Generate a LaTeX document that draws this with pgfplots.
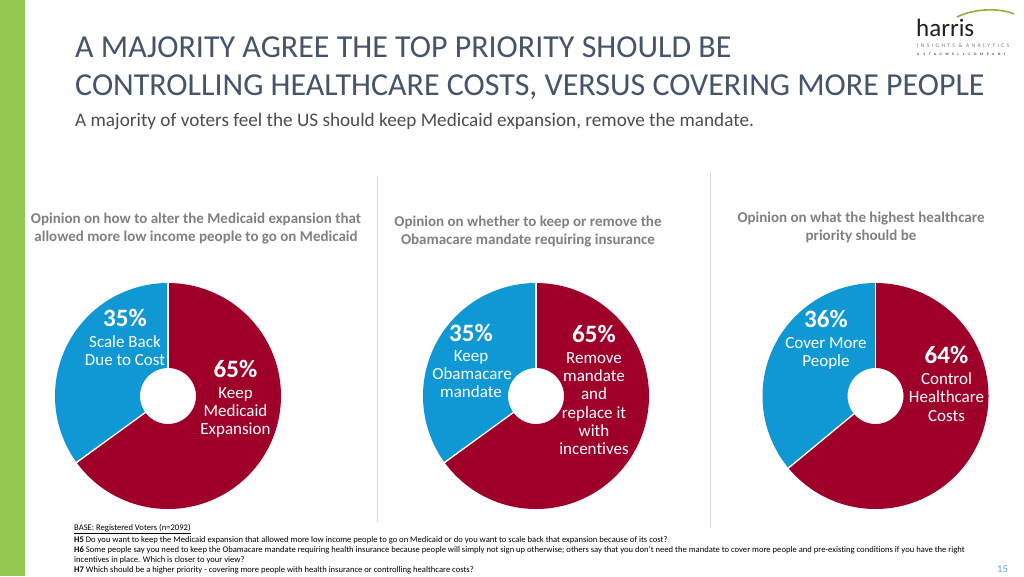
\documentclass[border=0pt]{standalone}
\usepackage{pgfplots}
\pgfplotsset{compat=1.18}
\usepgfplotslibrary{polar}
\usepackage{fontspec}
\setmainfont{Carlito}[Ligatures=NoCommon]
\newfontfamily\spaced[LetterSpace=42]{Carlito}
\newfontfamily\spacedB[LetterSpace=100]{Carlito}
\definecolor{pred}{RGB}{158,0,42}
\definecolor{pblue}{RGB}{16,152,212}
\definecolor{titlec}{RGB}{68,84,106}
\definecolor{subc}{RGB}{77,77,77}
\definecolor{headc}{RGB}{128,128,128}
\definecolor{barg}{RGB}{146,200,80}
\definecolor{divc}{RGB}{217,217,217}
\definecolor{pagec}{RGB}{90,167,219}
\definecolor{logog}{RGB}{141,179,58}

% data: percentages (blue slice, red slice)
\def\pieAblue{35}\def\pieAred{65}
\def\pieBblue{35}\def\pieBred{65}
\def\pieCblue{36}\def\pieCred{64}

\newcommand{\donut}[4]{%
\pgfmathsetmacro\bend{90+3.6*#3}%
\pgfmathsetmacro\rstart{90-3.6*#4}%
\begin{polaraxis}[at={(#1pt,-#2pt)}, anchor=center, hide axis, scale only axis,
  width=226pt, height=226pt, ymin=0, ymax=113, clip=false]
\addplot[pblue, line width=85pt, line join=round, domain=90:\bend, samples=90, no marks] {70.5};
\addplot[pred, line width=85pt, line join=round, domain=\rstart:90, samples=150, no marks] {70.5};
\addplot[white, line width=1.3pt, no marks] coordinates {(90,27.5) (90,114)};
\addplot[white, line width=1.3pt, no marks] coordinates {(\bend,27.5) (\bend,114)};
\end{polaraxis}}

\begin{document}
\begin{tikzpicture}[x=1pt,y=-1pt]
\useasboundingbox (0,0) rectangle (1024,576);
\fill[white] (0,0) rectangle (1024,576);
\fill[barg] (0,0) rectangle (25,576);

% title
\node[anchor=base west, inner sep=0, text=titlec, font=\fontsize{32}{38}\selectfont] at (75,57) {A MAJORITY AGREE THE TOP PRIORITY SHOULD BE};
\node[anchor=base west, inner sep=0, text=titlec, font=\fontsize{32}{38}\selectfont] at (75,95) {CONTROLLING HEALTHCARE COSTS, VERSUS COVERING MORE PEOPLE};
\node[anchor=base west, inner sep=0, text=subc, font=\fontsize{19.2}{23}\selectfont] at (75,126) {A majority of voters feel the US should keep Medicaid expansion, remove the mandate.};

% logo
\node[anchor=base west, inner sep=0, text={rgb,255:red,35;green,31;blue,32}, font=\fontsize{25}{28}\selectfont] at (916,36.5) {harris};
\draw[logog, line width=1.6pt] (957,17) .. controls (975,8) and (1000,8) .. (1014,14);
\node[anchor=base west, inner sep=0, text=headc, font=\spaced\fontsize{5.6}{6}\selectfont] at (917,47) {INSIGHTS \& ANALYTICS};
\node[anchor=base west, inner sep=0, text=black, font=\spacedB\fontsize{3.6}{4}\selectfont] at (917,55) {A STAGWELL COMPANY};

% dividers
\draw[divc, line width=1pt] (377.5,176) -- (377.5,522);
\draw[divc, line width=1pt] (710.5,172) -- (710.5,527);

% headings
\begin{scope}[every node/.style={inner sep=0, text=headc, font=\bfseries\fontsize{15}{18}\selectfont, anchor=base}]
\node at (196,223) {Opinion on how to alter the Medicaid expansion that};
\node at (196,241) {allowed more low income people to go on Medicaid};
\node at (528,226) {Opinion on whether to keep or remove the};
\node at (528,244) {Obamacare mandate requiring insurance};
\node at (861,222) {Opinion on what the highest healthcare};
\node at (861,240) {priority should be};
\end{scope}

% pies
\donut{168}{396}{\pieAblue}{\pieAred}
\donut{536}{396}{\pieBblue}{\pieBred}
\donut{875.5}{396}{\pieCblue}{\pieCred}

% pie labels
\begin{scope}[every node/.style={inner sep=0, text=white, font=\fontsize{17}{19}\selectfont, anchor=base}]
\node[font=\bfseries\fontsize{25}{28}\selectfont] at (125,326) {\pieAblue\%};
\node at (125,347) {Scale Back};
\node at (125,365) {Due to Cost};
\node[font=\bfseries\fontsize{25}{28}\selectfont] at (235.5,377) {\pieAred\%};
\node at (235.5,398) {Keep};
\node at (235.5,416.5) {Medicaid};
\node at (235.5,434.5) {Expansion};

\node[font=\bfseries\fontsize{25}{28}\selectfont] at (471,341) {\pieBblue\%};
\node at (471,361.5) {Keep};
\node at (472,379.5) {Obamacare};
\node at (471,397.5) {mandate};
\node[font=\bfseries\fontsize{25}{28}\selectfont] at (594,342) {\pieBred\%};
\node at (594,363.5) {Remove};
\node at (594,381.5) {mandate};
\node at (594,399.5) {and};
\node at (594,418) {replace it};
\node at (594,436) {with};
\node at (594,454) {incentives};

\node[font=\bfseries\fontsize{25}{28}\selectfont] at (826,327) {\pieCblue\%};
\node at (826,348) {Cover More};
\node at (826,366) {People};
\node[font=\bfseries\fontsize{25}{28}\selectfont] at (946.5,363.5) {\pieCred\%};
\node at (946.5,384.5) {Control};
\node at (946.5,402.5) {Healthcare};
\node at (946.5,421) {Costs};
\end{scope}

% footnotes
\begin{scope}[every node/.style={inner sep=0, text=black, font=\fontsize{8.6}{10}\selectfont, anchor=base west}]
\node at (74,530.5) {\underline{BASE: Registered Voters (n=2092)}};
\node at (74,542.5) {\textbf{H5} Do you want to keep the Medicaid expansion that allowed more low income people to go on Medicaid or do you want to scale back that expansion because of its cost?};
\node at (74,552.5) {\textbf{H6} Some people say you need to keep the Obamacare mandate requiring health insurance because people will simply not sign up otherwise; others say that you don't need the mandate to cover more people and pre-existing conditions if you have the right};
\node at (74,562) {incentives in place. Which is closer to your view?};
\node at (74,572) {\textbf{H7} Which should be a higher priority - covering more people with health insurance or controlling healthcare costs?};
\end{scope}
\node[anchor=base, inner sep=0, text=pagec, font=\fontsize{10.5}{12}\selectfont] at (1002.5,572.5) {15};
\end{tikzpicture}
\end{document}
